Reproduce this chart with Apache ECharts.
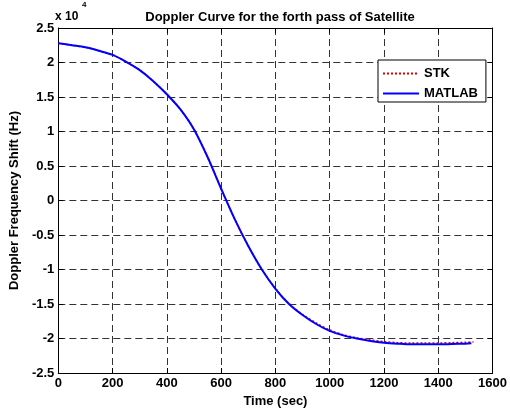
<!DOCTYPE html>
<html>
<head>
<meta charset="utf-8">
<script src="https://cdn.jsdelivr.net/npm/echarts@6/dist/echarts.min.js"></script>
<style>html,body{margin:0;padding:0;background:#fff}#c{width:510px;height:413px}</style>
</head>
<body>
<div id="c"></div>
<script>
// Time (sec)
const timeMatlab = [0,50,100,150,200,250,300,350,400,450,500,550,600,650,700,750,800,850,900,950,1000,1050,1100,1150,1200,1250,1300,1350,1400,1450,1500,1522];
// Doppler shift in units of 10^4 Hz
const dopplerMatlab = [2.28,2.25,2.22,2.17,2.11,2.01,1.89,1.73,1.54,1.32,1.03,0.63,0.17,-0.27,-0.66,-1.0,-1.28,-1.50,-1.66,-1.79,-1.89,-1.955,-2.0,-2.035,-2.06,-2.075,-2.085,-2.085,-2.085,-2.08,-2.075,-2.07];
const timeStk = [0,50,100,150,200,250,300,350,400,450,500,550,600,650,700,750,800,850,900,950,1000,1050,1100,1150,1200,1250,1300,1350,1400,1450,1500,1530];
const dopplerStk = [2.28,2.25,2.22,2.17,2.11,2.01,1.89,1.73,1.54,1.32,1.03,0.63,0.17,-0.27,-0.66,-1.0,-1.275,-1.495,-1.65,-1.775,-1.875,-1.945,-1.99,-2.02,-2.045,-2.06,-2.065,-2.065,-2.065,-2.06,-2.055,-2.05];
const xTicks = [0,1600,200];
const yTicks = [-2.5,2.5,0.5];

const FONT = 'Liberation Sans, Arial, sans-serif';
const chart = echarts.init(document.getElementById('c'), null, {renderer:'canvas'});
const gridLine = {show:true, lineStyle:{color:'#333', width:1, type:[7,4]}};
const axisLine = {show:true, onZero:false, lineStyle:{color:'#000', width:1}};
const tick = {show:true, inside:true, length:5, lineStyle:{color:'#000'}};
const lab = {color:'#000', fontFamily:FONT, fontWeight:'bold', fontSize:13};
chart.setOption({
  animation:false,
  backgroundColor:'#fff',
  title:{text:'Doppler Curve for the forth pass of Satellite', left:275, textAlign:'center', top:6,
    textStyle:{fontFamily:FONT, fontWeight:'bold', fontSize:13, color:'#000'}},
  grid:{left:56, right:14, top:28, bottom:39},
  legend:{orient:'vertical', left:378, top:60, itemWidth:36, itemHeight:12, itemGap:7,
    padding:[7,8,2,4], borderColor:'#000', borderWidth:1, backgroundColor:'#fff',
    textStyle:{fontFamily:FONT, fontWeight:'bold', fontSize:13, color:'#000'},
    itemStyle:{opacity:0},
    data:['STK','MATLAB']},
  xAxis:[
    {type:'value', min:xTicks[0], max:xTicks[1], interval:xTicks[2], position:'bottom',
     name:'Time (sec)', nameLocation:'middle', nameGap:22,
     nameTextStyle:{fontFamily:FONT, fontWeight:'bold', fontSize:13, color:'#000'},
     axisLine:axisLine, axisTick:tick, splitLine:gridLine,
     axisLabel:Object.assign({margin:4, formatter:v=>String(v)}, lab)},
    {type:'value', min:xTicks[0], max:xTicks[1], interval:xTicks[2], position:'top',
     axisLine:axisLine, axisTick:tick, splitLine:{show:false}, axisLabel:{show:false}}
  ],
  yAxis:[
    {type:'value', min:yTicks[0], max:yTicks[1], interval:yTicks[2], position:'left',
     name:'Doppler Frequency Shift (Hz)', nameLocation:'middle', nameGap:36, nameRotate:90,
     nameTextStyle:{fontFamily:FONT, fontWeight:'bold', fontSize:13, color:'#000'},
     axisLine:axisLine, axisTick:tick, splitLine:gridLine,
     axisLabel:Object.assign({margin:4, formatter:v=>String(v)}, lab)},
    {type:'value', min:yTicks[0], max:yTicks[1], interval:yTicks[2], position:'right',
     axisLine:axisLine, axisTick:tick, splitLine:{show:false}, axisLabel:{show:false}}
  ],
  graphic:[
    {type:'text', left:55, top:11, style:{text:'x 10', fontFamily:FONT, fontWeight:'bold', fontSize:12, fill:'#000'}},
    {type:'text', left:82, top:1, style:{text:'4', fontFamily:FONT, fontWeight:'bold', fontSize:8, fill:'#000'}}
  ],
  series:[
    {name:'STK', type:'line', showSymbol:false, symbol:'none', smooth:0.3, z:2,
     data:timeStk.map((t,i)=>[t,dopplerStk[i]]),
     lineStyle:{color:'#e00000', width:1.5, type:[2,2]}, itemStyle:{color:'#e00000'}},
    {name:'MATLAB', type:'line', showSymbol:false, symbol:'none', smooth:0.3, z:3,
     data:timeMatlab.map((t,i)=>[t,dopplerMatlab[i]]),
     lineStyle:{color:'#0000ff', width:2}, itemStyle:{color:'#0000ff'}}
  ]
});
</script>
</body>
</html>
